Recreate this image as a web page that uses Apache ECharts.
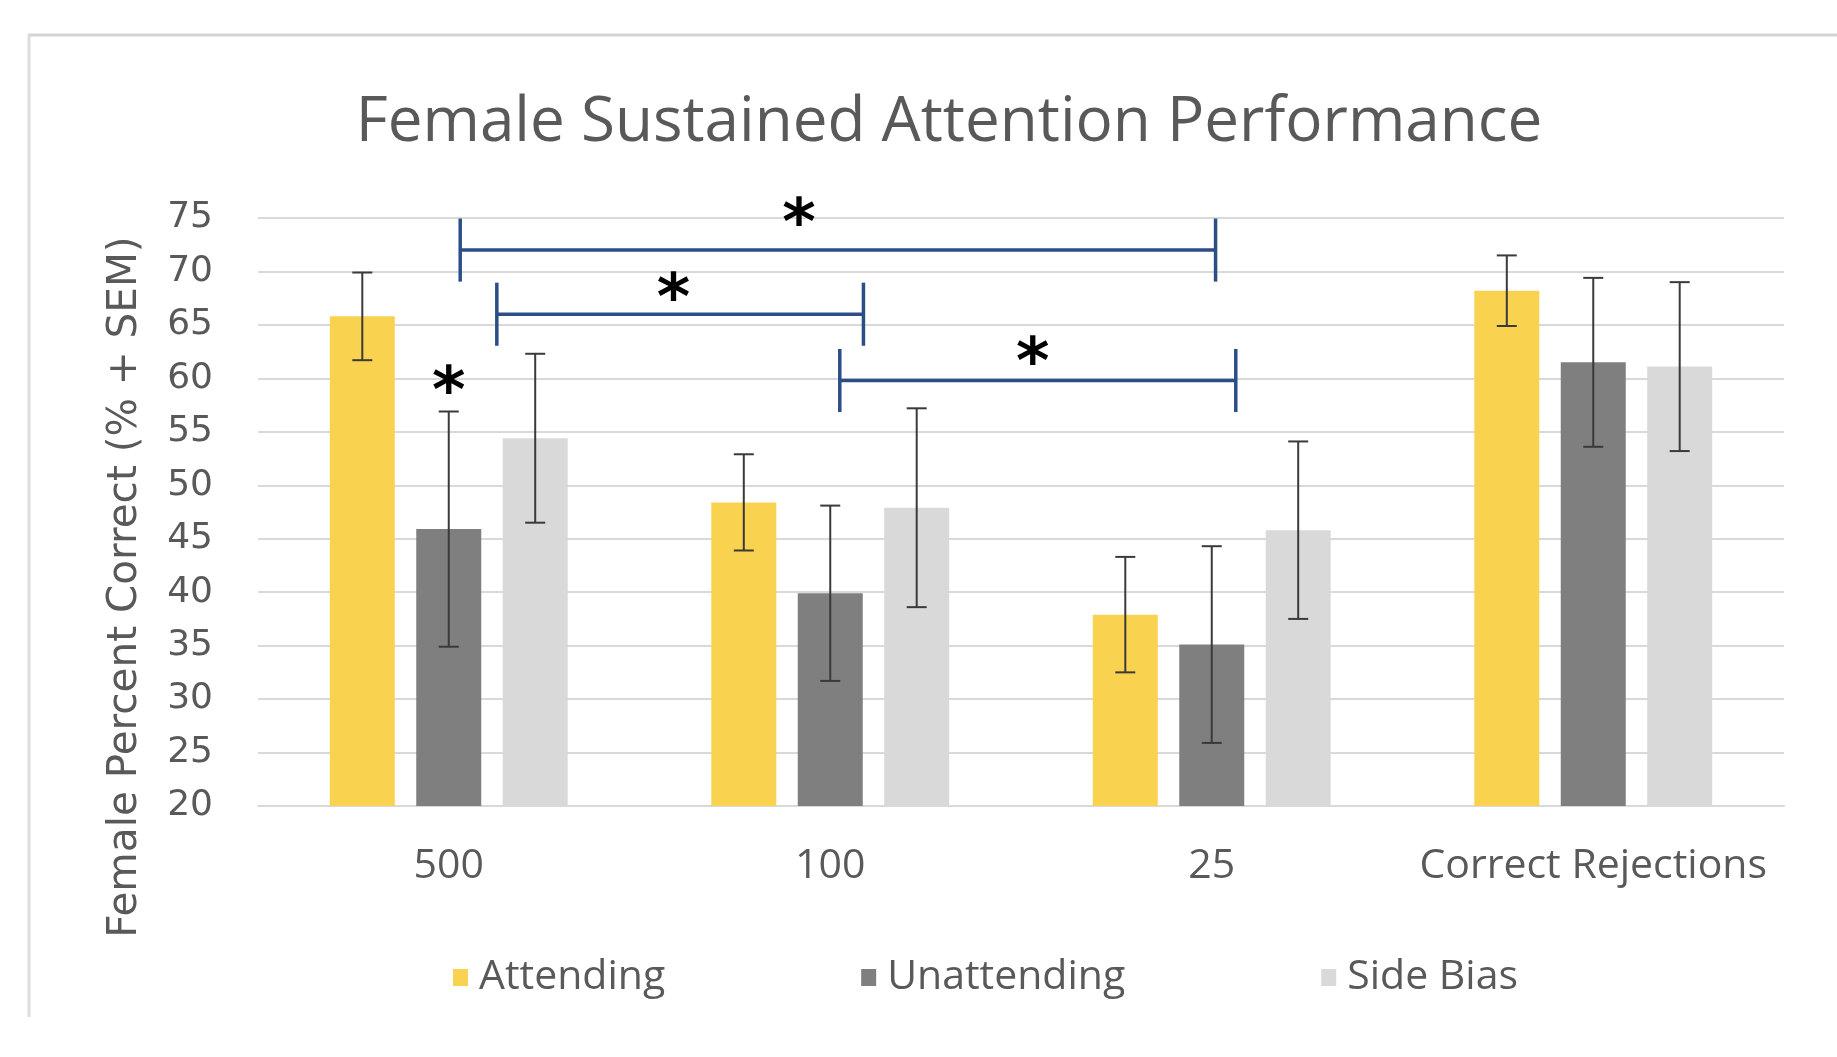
<!DOCTYPE html>
<html>
<head>
<meta charset="utf-8">
<style>
  html, body { margin: 0; padding: 0; background: #ffffff; }
  #chart { width: 1837px; height: 1057px; }
</style>
<script src="https://cdn.jsdelivr.net/npm/echarts@6/dist/echarts.min.js"></script>
</head>
<body>
<div id="chart"></div>
<script>
// Sustained attention task, female subjects: mean percent correct with SEM
const categories = ['500', '100', '25', 'Correct Rejections'];
const seriesNames = ['Attending', 'Unattending', 'Side Bias'];

const attending      = [65.8, 48.4, 37.9, 68.2];
const attendingSem   = [4.1, 4.5, 5.4, 3.3];
const unattending    = [45.9, 39.9, 35.1, 61.5];
const unattendingSem = [11.0, 8.2, 9.2, 7.9];
const sideBias       = [54.4, 47.9, 45.8, 61.1];
const sideBiasSem    = [7.9, 9.3, 8.3, 7.9];

const yMin = 20;
const yMax = 75;
const yStep = 5;

// Significance brackets: [from (category position), to, height, half tick length]
const brackets = [
  [0.03, 2.01, 72.0, 2.95],
  [0.126, 1.087, 66.0, 2.95],
  [1.025, 2.063, 59.8, 2.95]
];
// Asterisks: [category position, height]
const stars = [
  [0.918, 75.3],
  [0.589, 68.3],
  [1.531, 62.3],
  [0.0, 59.6]
];

const colors = ['#F9D34F', '#7F7F7F', '#D9D9D9'];
const BAR_W = 65;
const BAR_GAP = 0.33;

const chart = echarts.init(document.getElementById('chart'), null, { renderer: 'canvas' });

function barSeries(name, values, idx) {
  return {
    name: name,
    type: 'bar',
    xAxisIndex: 0,
    yAxisIndex: 0,
    barWidth: BAR_W,
    barGap: (BAR_GAP * 100) + '%',
    itemStyle: { color: colors[idx] },
    data: values,
    z: 2
  };
}

function errorSeries(name, values, sems, idx) {
  const offset = (idx - 1) * (BAR_W * (1 + BAR_GAP));
  return {
    name: name,
    type: 'custom',
    xAxisIndex: 0,
    yAxisIndex: 0,
    z: 5,
    silent: true,
    data: values.map((v, i) => [i, v - sems[i], v + sems[i]]),
    renderItem: function (params, api) {
      const lo = api.coord([api.value(0), api.value(1)]);
      const hi = api.coord([api.value(0), api.value(2)]);
      const x = lo[0] + offset;
      const cap = 10;
      const st = { stroke: '#3a3a3a', lineWidth: 2 };
      return {
        type: 'group',
        children: [
          { type: 'line', shape: { x1: x, y1: lo[1], x2: x, y2: hi[1] }, style: st },
          { type: 'line', shape: { x1: x - cap, y1: lo[1], x2: x + cap, y2: lo[1] }, style: st },
          { type: 'line', shape: { x1: x - cap, y1: hi[1], x2: x + cap, y2: hi[1] }, style: st }
        ]
      };
    }
  };
}

const option = {
  backgroundColor: '#ffffff',
  animation: false,
  title: {
    text: 'Female Sustained Attention Performance',
    left: 944,
    top: 87,
    textAlign: 'center',
    textStyle: {
      fontFamily: 'Open Sans',
      fontSize: 62,
      fontWeight: 'normal',
      color: '#595959'
    }
  },
  legend: {
    data: seriesNames,
    left: 448,
    top: 952,
    itemWidth: 15,
    itemHeight: 17,
    itemGap: 196,
    icon: 'rect',
    textStyle: {
      fontFamily: 'Open Sans',
      fontSize: 41,
      color: '#595959',
      padding: [0, 0, 0, 6]
    }
  },
  grid: {
    left: 258,
    right: 53,
    top: 218,
    bottom: 251,
    containLabel: false
  },
  xAxis: [
    {
      type: 'category',
      data: categories,
      axisTick: { show: false },
      axisLine: { show: true, lineStyle: { color: '#d9d9d9', width: 2 } },
      axisLabel: {
        interval: 0,
        fontFamily: 'Open Sans',
        fontSize: 41,
        color: '#595959',
        margin: 40
      }
    },
    {
      type: 'value',
      min: -0.5,
      max: 3.5,
      show: false
    }
  ],
  yAxis: {
    type: 'value',
    min: yMin,
    max: yMax,
    interval: yStep,
    name: 'Female Percent Correct (% + SEM)',
    nameLocation: 'middle',
    nameGap: 112,
    nameTextStyle: {
      fontFamily: 'DejaVu Sans',
      fontSize: 40.5,
      color: '#595959',
      padding: [0, 150, 0, 0]
    },
    axisLine: { show: false },
    axisTick: { show: false },
    axisLabel: {
      fontFamily: 'DejaVu Sans',
      fontSize: 36,
      color: '#595959',
      margin: 45
    },
    splitLine: { lineStyle: { color: '#d9d9d9', width: 2 } }
  },
  graphic: [
    { type: 'line', shape: { x1: 28, y1: 35, x2: 1837, y2: 35 }, style: { stroke: '#d4d4d4', lineWidth: 3 }, z: -1 },
    { type: 'line', shape: { x1: 29, y1: 35, x2: 29, y2: 1017 }, style: { stroke: '#dcdcdc', lineWidth: 3 }, z: -1 }
  ],
  series: [
    barSeries(seriesNames[0], attending, 0),
    barSeries(seriesNames[1], unattending, 1),
    barSeries(seriesNames[2], sideBias, 2),
    errorSeries(seriesNames[0], attending, attendingSem, 0),
    errorSeries(seriesNames[1], unattending, unattendingSem, 1),
    errorSeries(seriesNames[2], sideBias, sideBiasSem, 2),
    {
      type: 'custom',
      name: 'brackets',
      xAxisIndex: 1,
      yAxisIndex: 0,
      silent: true,
      z: 6,
      data: brackets,
      renderItem: function (params, api) {
        const a = api.coord([api.value(0), api.value(2)]);
        const b = api.coord([api.value(1), api.value(2)]);
        const tTop = api.coord([api.value(0), api.value(2) + api.value(3)]);
        const tBot = api.coord([api.value(0), api.value(2) - api.value(3)]);
        const st = { stroke: '#2B4E86', lineWidth: 3.5 };
        return {
          type: 'group',
          children: [
            { type: 'line', shape: { x1: a[0], y1: a[1], x2: b[0], y2: b[1] }, style: st },
            { type: 'line', shape: { x1: a[0], y1: tTop[1], x2: a[0], y2: tBot[1] }, style: st },
            { type: 'line', shape: { x1: b[0], y1: tTop[1], x2: b[0], y2: tBot[1] }, style: st }
          ]
        };
      }
    },
    {
      type: 'custom',
      name: 'stars',
      xAxisIndex: 1,
      yAxisIndex: 0,
      silent: true,
      z: 7,
      data: stars,
      renderItem: function (params, api) {
        const p = api.coord([api.value(0), api.value(1)]);
        return {
          type: 'text',
          x: p[0],
          y: p[1] + 13,
          style: {
            text: '*',
            font: 'bold 64px "DejaVu Sans"',
            fill: '#000000',
            align: 'center',
            verticalAlign: 'middle'
          }
        };
      }
    }
  ]
};

chart.setOption(option);
</script>
</body>
</html>
